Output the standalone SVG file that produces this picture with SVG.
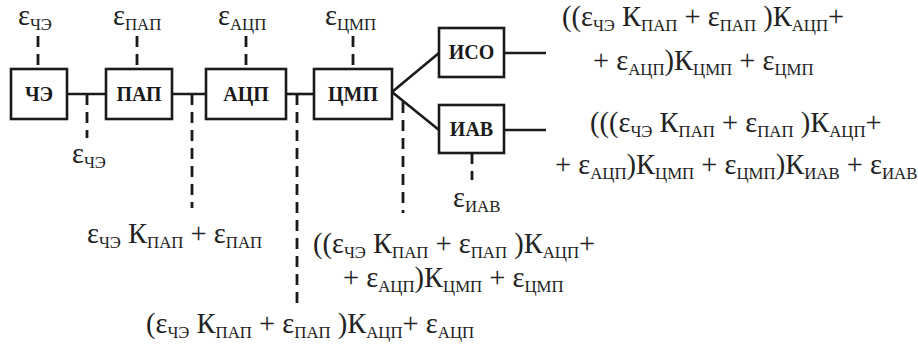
<svg xmlns="http://www.w3.org/2000/svg" width="918" height="356" viewBox="0 0 918 356">
<style>
.box{fill:#fff;stroke:#1a1a1a;stroke-width:2.6}
.bl{font-weight:bold;font-size:20px;fill:#1a1a1a;text-anchor:middle}
.ln{stroke:#1a1a1a;stroke-width:2.6;fill:none}
.dl{stroke:#1a1a1a;stroke-width:2.8;fill:none;stroke-dasharray:11 7}
.f{font-size:28.5px;fill:#222}
.s{font-size:16.8px}
</style>
<rect width="918" height="356" fill="#fff"/>
<g id="connectors">
<line class="ln" x1="67" y1="94" x2="106" y2="94"/>
<line class="ln" x1="172" y1="94" x2="206" y2="94"/>
<line class="ln" x1="286" y1="94" x2="314" y2="94"/>
<line class="ln" x1="392" y1="92" x2="439" y2="53"/>
<line class="ln" x1="392" y1="92" x2="439" y2="130"/>
<line class="ln" x1="504" y1="53" x2="546" y2="53"/>
<line class="ln" x1="504" y1="130" x2="546" y2="130"/>
<line class="dl" x1="38" y1="36" x2="38" y2="69"/>
<line class="dl" x1="137" y1="36" x2="137" y2="69"/>
<line class="dl" x1="246" y1="36" x2="246" y2="69"/>
<line class="dl" x1="353" y1="36" x2="353" y2="69"/>
<line class="dl" x1="87" y1="94" x2="87" y2="138"/>
<line class="dl" x1="192" y1="94" x2="192" y2="208"/>
<line class="dl" x1="297" y1="94" x2="297" y2="310"/>
<line class="dl" x1="403" y1="102" x2="403" y2="213"/>
<line class="dl" x1="472" y1="153" x2="472" y2="180"/>
</g>
<g id="n_che"><rect class="box" x="11" y="69" width="56" height="50"/><text class="bl" font-family="Liberation Serif, serif" x="39" y="101">ЧЭ</text></g>
<g id="n_pap"><rect class="box" x="106" y="69" width="66" height="50"/><text class="bl" font-family="Liberation Serif, serif" x="139" y="101">ПАП</text></g>
<g id="n_acp"><rect class="box" x="206" y="69" width="80" height="50"/><text class="bl" font-family="Liberation Serif, serif" x="246" y="101">АЦП</text></g>
<g id="n_cmp"><rect class="box" x="314" y="69" width="78" height="50"/><text class="bl" font-family="Liberation Serif, serif" x="353" y="101">ЦМП</text></g>
<g id="n_iso"><rect class="box" x="439" y="28" width="65" height="49"/><text class="bl" font-family="Liberation Serif, serif" x="471.5" y="59">ИСО</text></g>
<g id="n_iav"><rect class="box" x="439" y="105" width="65" height="48"/><text class="bl" font-family="Liberation Serif, serif" x="471.5" y="136">ИАВ</text></g>
<g id="labels">
<text class="f" font-family="Liberation Serif, serif" x="18" y="25">ε<tspan class="s" dy="5">ЧЭ</tspan></text>
<text class="f" font-family="Liberation Serif, serif" x="113" y="25">ε<tspan class="s" dy="5">ПАП</tspan></text>
<text class="f" font-family="Liberation Serif, serif" x="218" y="25">ε<tspan class="s" dy="5">АЦП</tspan></text>
<text class="f" font-family="Liberation Serif, serif" x="325" y="25">ε<tspan class="s" dy="5">ЦМП</tspan></text>
<text class="f" font-family="Liberation Serif, serif" x="72" y="163">ε<tspan class="s" dy="5">ЧЭ</tspan></text>
<text class="f" font-family="Liberation Serif, serif" x="453" y="207">ε<tspan class="s" dy="5">ИАВ</tspan></text>
<text class="f" font-family="Liberation Serif, serif" x="87" y="243">ε<tspan class="s" dy="5">ЧЭ</tspan><tspan dy="-5"> К</tspan><tspan class="s" dy="5">ПАП</tspan><tspan dy="-5"> + ε</tspan><tspan class="s" dy="5">ПАП</tspan></text>
<text class="f" font-family="Liberation Serif, serif" x="146" y="333">(ε<tspan class="s" dy="5">ЧЭ</tspan><tspan dy="-5"> К</tspan><tspan class="s" dy="5">ПАП</tspan><tspan dy="-5"> + ε</tspan><tspan class="s" dy="5">ПАП</tspan><tspan dy="-5"> )К</tspan><tspan class="s" dy="5">АЦП</tspan><tspan dy="-5">+ ε</tspan><tspan class="s" dy="5">АЦП</tspan></text>
<text class="f" font-family="Liberation Serif, serif" x="313" y="253">((ε<tspan class="s" dy="5">ЧЭ</tspan><tspan dy="-5"> К</tspan><tspan class="s" dy="5">ПАП</tspan><tspan dy="-5"> + ε</tspan><tspan class="s" dy="5">ПАП</tspan><tspan dy="-5"> )К</tspan><tspan class="s" dy="5">АЦП</tspan><tspan dy="-5">+</tspan></text>
<text class="f" font-family="Liberation Serif, serif" x="343" y="287">+ ε<tspan class="s" dy="5">АЦП</tspan><tspan dy="-5">)К</tspan><tspan class="s" dy="5">ЦМП</tspan><tspan dy="-5"> + ε</tspan><tspan class="s" dy="5">ЦМП</tspan></text>
<text class="f" font-family="Liberation Serif, serif" x="562" y="26">((ε<tspan class="s" dy="5">ЧЭ</tspan><tspan dy="-5"> К</tspan><tspan class="s" dy="5">ПАП</tspan><tspan dy="-5"> + ε</tspan><tspan class="s" dy="5">ПАП</tspan><tspan dy="-5"> )К</tspan><tspan class="s" dy="5">АЦП</tspan><tspan dy="-5">+</tspan></text>
<text class="f" font-family="Liberation Serif, serif" x="593" y="70">+ ε<tspan class="s" dy="5">АЦП</tspan><tspan dy="-5">)К</tspan><tspan class="s" dy="5">ЦМП</tspan><tspan dy="-5"> + ε</tspan><tspan class="s" dy="5">ЦМП</tspan></text>
<text class="f" font-family="Liberation Serif, serif" x="590" y="132">(((ε<tspan class="s" dy="5">ЧЭ</tspan><tspan dy="-5"> К</tspan><tspan class="s" dy="5">ПАП</tspan><tspan dy="-5"> + ε</tspan><tspan class="s" dy="5">ПАП</tspan><tspan dy="-5"> )К</tspan><tspan class="s" dy="5">АЦП</tspan><tspan dy="-5">+</tspan></text>
<text class="f" font-family="Liberation Serif, serif" x="555" y="174">+ ε<tspan class="s" dy="5">АЦП</tspan><tspan dy="-5">)К</tspan><tspan class="s" dy="5">ЦМП</tspan><tspan dy="-5"> + ε</tspan><tspan class="s" dy="5">ЦМП</tspan><tspan dy="-5">)К</tspan><tspan class="s" dy="5">ИАВ</tspan><tspan dy="-5"> + ε</tspan><tspan class="s" dy="5">ИАВ</tspan></text>
</g>
</svg>
